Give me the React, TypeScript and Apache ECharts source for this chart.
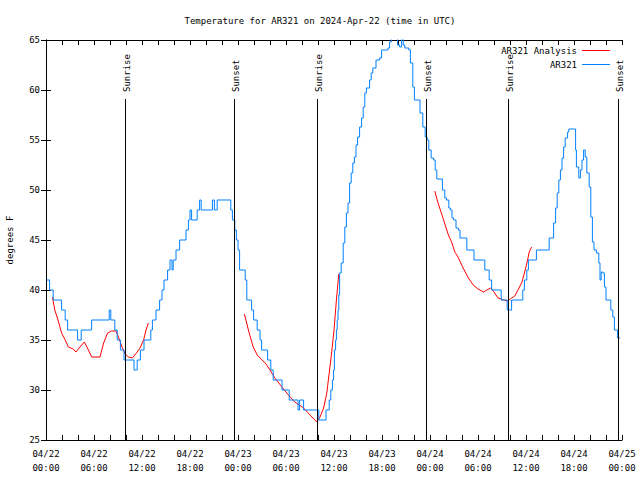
import React, { useEffect, useRef } from 'react';
import * as echarts from 'echarts';

const FONT = 'DejaVu Sans Mono';
const titleText = 'Temperature for AR321 on 2024-Apr-22 (time in UTC)';
const yAxisName = 'degrees F';

// x axis: hours since 04/22 00:00 UTC
const xTickLabels = [
  '04/22\n00:00', '04/22\n06:00', '04/22\n12:00', '04/22\n18:00',
  '04/23\n00:00', '04/23\n06:00', '04/23\n12:00', '04/23\n18:00',
  '04/24\n00:00', '04/24\n06:00', '04/24\n12:00', '04/24\n18:00',
  '04/25\n00:00',
];

const sunHours = [9.875, 23.5, 33.875, 47.5, 57.75, 71.5];
const sunLabels = ['Sunrise', 'Sunset', 'Sunrise', 'Sunset', 'Sunrise', 'Sunset'];

// AR321 observations: [hour, temperature °F] (value holds from that hour)
const observed: [number, number][] = [
  [0.1, 41], [0.45, 40], [0.9, 39], [1.95, 38], [2.4, 37], [2.7, 36], [3.95, 35], [4.4, 36],
  [5.7, 37], [7.9, 38], [8.1, 37], [8.6, 36], [8.9, 35], [9.3, 34], [9.75, 33], [11.0, 32],
  [11.4, 33], [11.8, 34], [12.25, 35], [13.1, 36], [13.3, 37], [13.75, 38], [14.2, 39],
  [14.5, 40], [14.75, 41], [15.2, 42], [15.5, 43], [15.75, 42], [15.9, 43], [16.25, 44],
  [16.7, 45], [17.5, 46], [17.8, 47], [18.0, 48], [18.2, 47], [18.9, 48], [19.2, 49],
  [19.4, 48], [20.8, 49], [21.05, 48], [21.4, 49], [23.1, 48], [23.3, 47], [23.6, 46],
  [23.8, 45], [24.0, 44], [24.2, 42], [24.9, 41], [25.1, 39], [25.7, 38], [25.95, 37],
  [26.4, 36], [26.75, 35], [26.95, 34], [27.7, 33], [28.1, 32], [28.4, 31], [29.5, 30],
  [30.4, 29], [31.5, 28], [31.7, 29], [32.2, 28], [34.1, 27], [35.0, 28], [35.4, 29],
  [35.6, 30], [35.8, 31], [35.95, 32], [36.05, 34], [36.2, 35], [36.3, 36], [36.4, 37],
  [36.5, 38], [36.6, 39.5], [36.7, 41.7], [36.9, 42.7], [37.15, 44.7], [37.35, 46.3],
  [37.55, 47.7], [37.75, 48.7], [37.95, 50.7], [38.15, 51.7], [38.35, 52.7], [38.55, 53.3],
  [38.75, 54.5], [38.95, 55.3], [39.2, 56.3], [39.45, 57.2], [39.65, 58.3], [39.85, 59.7],
  [40.05, 60.2], [40.45, 61], [40.65, 61.7], [40.85, 62.2], [41.25, 63], [41.7, 63.2],
  [41.95, 64], [42.75, 64.2], [42.95, 64.8], [43.15, 66], [43.95, 64.5], [44.2, 64.3],
  [44.45, 66], [44.65, 64.5], [44.85, 64.2], [45.35, 64], [45.55, 62.7], [45.85, 60.3],
  [46.05, 59], [46.75, 57.7], [47.1, 56.3], [47.4, 55.3], [47.65, 55], [47.85, 54],
  [48.15, 53.2], [48.45, 53], [48.65, 52], [48.85, 51.1], [49.55, 50], [49.85, 49.2],
  [50.05, 49], [50.35, 48.2], [50.55, 48], [50.75, 47.2], [50.95, 47], [51.25, 46.2],
  [51.55, 46], [51.75, 45.2], [52.6, 44], [53.5, 43], [54.85, 42], [55.4, 41], [55.7, 40],
  [56.9, 39], [57.65, 38], [58.2, 39], [59.6, 40], [59.8, 41], [60.1, 42], [60.3, 43],
  [61.3, 44], [62.9, 45.2], [63.45, 46.7], [63.7, 48.2], [63.9, 49.7], [64.1, 51],
  [64.3, 52], [64.5, 53.2], [64.7, 54.3], [64.9, 55.2], [65.2, 55.8], [65.35, 56.1],
  [66.2, 54], [66.3, 52.3], [66.6, 51.2], [66.8, 52], [67.0, 53], [67.2, 54], [67.4, 53.3],
  [67.6, 51.7], [67.9, 50.3], [68.1, 47.3], [68.3, 44.8], [68.5, 44], [68.8, 43.7],
  [69.1, 42.7], [69.25, 41], [69.4, 41.8], [69.6, 41.7], [69.8, 40.3], [70.0, 39],
  [70.6, 38], [70.85, 37.3], [71.05, 36], [71.45, 35.2], [71.75, 35.2],
];

// AR321 Analysis segments: [hour, temperature °F]
const analysisDay1: [number, number][] = [
  [0.8, 39.3], [1.1, 38], [1.5, 37], [1.95, 35.7], [2.4, 35], [2.8, 34.3], [3.4, 34.1],
  [3.75, 33.8], [4.25, 34.3], [4.8, 34.8], [5.3, 34], [5.7, 33.3], [6.75, 33.3], [7.2, 34.7],
  [7.7, 35.7], [8.2, 35.9], [8.75, 35.9], [9.2, 35], [9.5, 34.3], [9.9, 33.6], [10.3, 33.3],
  [10.8, 33.2], [11.3, 33.7], [11.75, 34.2], [12.2, 35], [12.5, 36], [12.8, 36.7],
];
const analysisDay2: [number, number][] = [
  [24.8, 37.6], [25.3, 36], [25.9, 34.3], [26.4, 33.5], [26.75, 33.2], [27.4, 32.7],
  [28.0, 32], [28.6, 31.2], [29.5, 30.3], [30.3, 29.5], [31.1, 28.8], [32.2, 28.2],
  [33.0, 27.5], [33.85, 26.8], [34.25, 27.3], [34.7, 28.2], [35.1, 29.7], [35.4, 31.7],
  [35.7, 33.7], [36.0, 36], [36.3, 39], [36.6, 41.6],
];
const analysisDay3: [number, number][] = [
  [48.6, 49.9], [49.0, 48.7], [49.5, 47.5], [49.9, 46.5], [50.3, 45.5], [50.7, 44.8],
  [51.1, 43.8], [51.5, 43.3], [51.96, 42.5], [52.4, 41.8], [52.8, 41.2], [53.4, 40.5],
  [54.0, 40.1], [54.7, 39.8], [55.1, 40], [55.6, 40.2], [56.0, 39.8], [56.5, 39.2],
  [57.2, 39], [57.7, 38.9], [58.2, 39.2], [58.6, 39.4], [59.0, 40], [59.5, 40.8],
  [59.9, 42], [60.2, 43], [60.4, 43.8], [60.7, 44.3],
];

export default function App() {
  const ref = useRef<HTMLDivElement>(null);
  useEffect(() => {
    if (!ref.current) return;
    const chart = echarts.init(ref.current, undefined, { renderer: 'svg' });
    const txt = { fontFamily: FONT, fontSize: 9, color: '#000' };
    const lineStyle = { color: '#000', width: 1 };
    const analysisData: any[] = [
      ...analysisDay1, [18, null], ...analysisDay2, [42, null], ...analysisDay3,
    ];
    const xBase = (pos: 'bottom' | 'top', labels: boolean) => ({
      type: 'value', min: 0, max: 72, interval: 6, position: pos,
      axisLine: { show: true, lineStyle },
      axisTick: { show: true, inside: true, length: 5, lineStyle },
      minorTick: { show: true, splitNumber: 3, length: 5, lineStyle },
      splitLine: { show: false },
      axisLabel: {
        show: labels, ...txt, lineHeight: 14, margin: 7,
        formatter: (v: number) => xTickLabels[Math.round(v / 6)],
      },
    });
    const yBase = (pos: 'left' | 'right', labels: boolean) => ({
      type: 'value', min: 25, max: 65, interval: 5, position: pos,
      axisLine: { show: true, lineStyle },
      axisTick: { show: true, inside: true, length: 5, lineStyle },
      splitLine: { show: false },
      axisLabel: { show: labels, ...txt, margin: 6 },
    });
    chart.setOption({
      animation: false,
      backgroundColor: '#ffffff',
      title: {
        text: titleText, left: 'center', top: 16, padding: 0,
        textStyle: { ...txt, fontWeight: 'normal' },
      },
      legend: {
        data: ['AR321 Analysis', 'AR321'], orient: 'vertical', align: 'right',
        right: 30, top: 46, icon: 'rect', itemWidth: 28, itemHeight: 1, itemGap: 5,
        padding: 0, selectedMode: false, textStyle: txt,
      },
      grid: { left: 46, right: 18, top: 40, bottom: 40, containLabel: false, outerBoundsMode: 'none' },
      xAxis: [xBase('bottom', true), xBase('top', false)],
      yAxis: [
        { ...yBase('left', true), name: yAxisName, nameLocation: 'middle', nameGap: 32, nameTextStyle: txt },
        yBase('right', false),
      ],
      series: [
        {
          name: 'AR321 Analysis', type: 'line', data: analysisData, symbol: 'none',
          connectNulls: false, lineStyle: { color: '#ff0000', width: 1 }, itemStyle: { color: '#ff0000' },
        },
        {
          name: 'AR321', type: 'line', data: observed, step: 'end', symbol: 'none',
          lineStyle: { color: '#0080ff', width: 1 }, itemStyle: { color: '#0080ff' },
        },
        {
          type: 'custom', silent: true, clip: false, z: 5,
          data: sunHours.map((h, i) => [h, 30, i]),
          encode: { x: 0, y: 1 },
          renderItem: (_p: any, api: any) => {
            const h = api.value(0);
            const idx = api.value(2);
            const top = api.coord([h, 59.1]);
            const bot = api.coord([h, 25]);
            const x = Math.round(top[0]) + 0.5;
            return {
              type: 'group',
              children: [
                { type: 'line', shape: { x1: x, y1: top[1], x2: x, y2: bot[1] }, style: { stroke: '#000', lineWidth: 1 } },
                {
                  type: 'text', x: x + 1, y: top[1] - 7, rotation: Math.PI / 2,
                  style: { text: sunLabels[idx], font: `9px ${FONT}`, fill: '#000', align: 'left', verticalAlign: 'middle' },
                },
              ],
            };
          },
        },
      ],
    });
    return () => chart.dispose();
  }, []);
  return <div ref={ref} style={{ position: 'fixed', left: 0, top: 0, width: 640, height: 480 }} />;
}
